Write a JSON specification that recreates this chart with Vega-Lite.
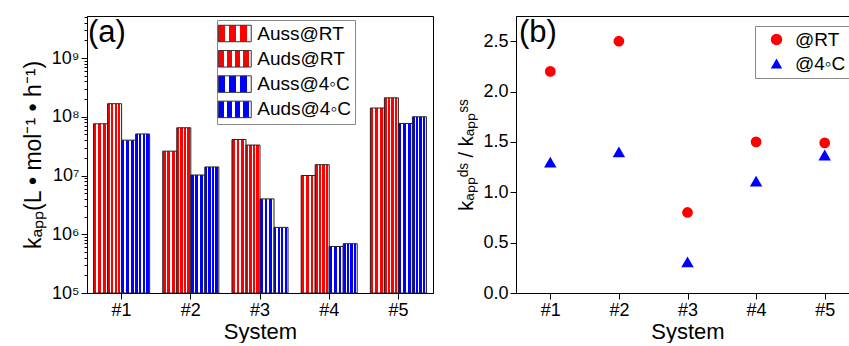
{
  "$schema": "https://vega.github.io/schema/vega-lite/v6.json",
  "padding": {"left": 21, "top": 15, "right": 0, "bottom": 0},
  "spacing": 22,
  "resolve": {
    "scale": {"fill": "independent", "color": "independent", "shape": "independent"},
    "legend": {"fill": "independent", "color": "independent", "shape": "independent"}
  },
  "datasets": {
    "bars": [
      {"system": "#1", "series": "Auss@RT", "k": 76000000},
      {"system": "#1", "series": "Auds@RT", "k": 167000000},
      {"system": "#1", "series": "Auss@4◦C", "k": 40000000},
      {"system": "#1", "series": "Auds@4◦C", "k": 51000000},
      {"system": "#2", "series": "Auss@RT", "k": 26000000},
      {"system": "#2", "series": "Auds@RT", "k": 65000000},
      {"system": "#2", "series": "Auss@4◦C", "k": 10200000},
      {"system": "#2", "series": "Auds@4◦C", "k": 14000000},
      {"system": "#3", "series": "Auss@RT", "k": 41000000},
      {"system": "#3", "series": "Auds@RT", "k": 33000000},
      {"system": "#3", "series": "Auss@4◦C", "k": 4000000},
      {"system": "#3", "series": "Auds@4◦C", "k": 1310000},
      {"system": "#4", "series": "Auss@RT", "k": 10000000},
      {"system": "#4", "series": "Auds@RT", "k": 15300000},
      {"system": "#4", "series": "Auss@4◦C", "k": 620000},
      {"system": "#4", "series": "Auds@4◦C", "k": 690000},
      {"system": "#5", "series": "Auss@RT", "k": 141000000},
      {"system": "#5", "series": "Auds@RT", "k": 210000000},
      {"system": "#5", "series": "Auss@4◦C", "k": 77000000},
      {"system": "#5", "series": "Auds@4◦C", "k": 100000000}
    ],
    "ratio": [
      {"system": "#1", "series": "@RT", "r": 2.2},
      {"system": "#2", "series": "@RT", "r": 2.5},
      {"system": "#3", "series": "@RT", "r": 0.8},
      {"system": "#4", "series": "@RT", "r": 1.5},
      {"system": "#5", "series": "@RT", "r": 1.49},
      {"system": "#1", "series": "@4◦C", "r": 1.3},
      {"system": "#2", "series": "@4◦C", "r": 1.4},
      {"system": "#3", "series": "@4◦C", "r": 0.31},
      {"system": "#4", "series": "@4◦C", "r": 1.11},
      {"system": "#5", "series": "@4◦C", "r": 1.37}
    ]
  },
  "hconcat": [
    {
      "width": 346,
      "height": 277,
      "title": {"text": "(a)", "anchor": "start", "frame": "group", "offset": -33, "dx": 1, "fontSize": 31, "fontWeight": "normal"},
      "data": {"name": "bars"},
      "mark": {"type": "bar", "stroke": "#222", "strokeWidth": 1},
      "encoding": {
        "x": {
          "field": "system", "type": "nominal",
          "scale": {"paddingInner": 0.19, "paddingOuter": 0.095},
          "axis": {"labelAngle": 0, "title": "System", "titleFontSize": 22, "tickSize": 6, "labelPadding": 2, "titlePadding": 2}
        },
        "xOffset": {"field": "series", "type": "nominal", "sort": ["Auss@RT", "Auds@RT", "Auss@4◦C", "Auds@4◦C"], "scale": {"paddingInner": 0, "paddingOuter": 0}},
        "y": {
          "field": "k", "type": "quantitative", "stack": null,
          "scale": {"type": "log", "domain": [100000, 5200000000], "nice": false},
          "axis": {
            "title": "kₐₚₚ(L • mol⁻¹ • h⁻¹)",
            "titleFontSize": 23,
            "values": [100000, 200000, 300000, 400000, 500000, 600000, 700000, 800000, 900000, 1000000, 2000000, 3000000, 4000000, 5000000, 6000000, 7000000, 8000000, 9000000, 10000000, 20000000, 30000000, 40000000, 50000000, 60000000, 70000000, 80000000, 90000000, 100000000, 200000000, 300000000, 400000000, 500000000, 600000000, 700000000, 800000000, 900000000, 1000000000, 2000000000, 3000000000, 4000000000, 5000000000],
            "labelExpr": "abs(log(datum.value)/LN10 - round(log(datum.value)/LN10)) < 0.01 ? '10' + ['⁰','¹','²','³','⁴','⁵','⁶','⁷','⁸','⁹'][round(log(datum.value)/LN10)] : ''",
            "tickSize": {"condition": {"test": "abs(log(datum.value)/LN10 - round(log(datum.value)/LN10)) < 0.01", "value": 6}, "value": 3},
            "labelPadding": 2,
            "titlePadding": 6
          }
        },
        "y2": {"datum": 100000},
        "fill": {
          "field": "series", "type": "nominal",
          "scale": {
            "domain": ["Auss@RT", "Auds@RT", "Auss@4◦C", "Auds@4◦C"],
            "range": [
              {"expr": "{gradient:'linear',x1:0,y1:0,x2:1,y2:0,stops:[{offset:0,color:'#ff0000'},{offset:0.2,color:'#ff0000'},{offset:0.2,color:'#ffffff'},{offset:0.333,color:'#ffffff'},{offset:0.333,color:'#ff0000'},{offset:0.533,color:'#ff0000'},{offset:0.533,color:'#ffffff'},{offset:0.667,color:'#ffffff'},{offset:0.667,color:'#ff0000'},{offset:0.867,color:'#ff0000'},{offset:0.867,color:'#ffffff'},{offset:1,color:'#ffffff'}]}"},
              {"expr": "{gradient:'linear',x1:0,y1:0,x2:1,y2:0,stops:[{offset:0,color:'#ff0000'},{offset:0.17,color:'#ff0000'},{offset:0.17,color:'#ffffff'},{offset:0.25,color:'#ffffff'},{offset:0.25,color:'#ff0000'},{offset:0.42,color:'#ff0000'},{offset:0.42,color:'#ffffff'},{offset:0.5,color:'#ffffff'},{offset:0.5,color:'#ff0000'},{offset:0.67,color:'#ff0000'},{offset:0.67,color:'#ffffff'},{offset:0.75,color:'#ffffff'},{offset:0.75,color:'#ff0000'},{offset:0.92,color:'#ff0000'},{offset:0.92,color:'#ffffff'},{offset:1,color:'#ffffff'}]}"},
              {"expr": "{gradient:'linear',x1:0,y1:0,x2:1,y2:0,stops:[{offset:0,color:'#0000ff'},{offset:0.2,color:'#0000ff'},{offset:0.2,color:'#ffffff'},{offset:0.333,color:'#ffffff'},{offset:0.333,color:'#0000ff'},{offset:0.533,color:'#0000ff'},{offset:0.533,color:'#ffffff'},{offset:0.667,color:'#ffffff'},{offset:0.667,color:'#0000ff'},{offset:0.867,color:'#0000ff'},{offset:0.867,color:'#ffffff'},{offset:1,color:'#ffffff'}]}"},
              {"expr": "{gradient:'linear',x1:0,y1:0,x2:1,y2:0,stops:[{offset:0,color:'#0000ff'},{offset:0.17,color:'#0000ff'},{offset:0.17,color:'#ffffff'},{offset:0.25,color:'#ffffff'},{offset:0.25,color:'#0000ff'},{offset:0.42,color:'#0000ff'},{offset:0.42,color:'#ffffff'},{offset:0.5,color:'#ffffff'},{offset:0.5,color:'#0000ff'},{offset:0.67,color:'#0000ff'},{offset:0.67,color:'#ffffff'},{offset:0.75,color:'#ffffff'},{offset:0.75,color:'#0000ff'},{offset:0.92,color:'#0000ff'},{offset:0.92,color:'#ffffff'},{offset:1,color:'#ffffff'}]}"}
            ]
          },
          "legend": {
            "title": null,
            "orient": "none",
            "legendX": 130,
            "legendY": 4,
            "symbolType": "M-2,-1H2V1H-2Z",
            "symbolSize": 272,
            "symbolOffset": 4.25,
            "symbolStrokeColor": "#333",
            "symbolStrokeWidth": 1,
            "labelFontSize": 19,
            "labelOffset": 13,
            "rowPadding": 4.3,
            "padding": 4,
            "strokeColor": "#888",
            "fillColor": "white"
          }
        }
      }
    },
    {
      "width": 343,
      "height": 277,
      "title": {"text": "(b)", "anchor": "start", "frame": "group", "offset": -33, "dx": 3, "fontSize": 31, "fontWeight": "normal"},
      "layer": [
        {
          "mark": {"type": "rule", "strokeDash": [4, 3], "color": "black", "strokeWidth": 1},
          "encoding": {"y": {"datum": 1, "type": "quantitative", "scale": {"domain": [0, 2.75], "nice": false}}}
        },
        {
          "data": {"name": "ratio"},
          "mark": {"type": "point", "filled": true, "opacity": 1},
          "encoding": {
            "x": {"field": "system", "type": "nominal", "scale": {"type": "point", "padding": 0.5}, "axis": {"labelAngle": 0, "title": "System", "titleFontSize": 22, "tickSize": 6, "labelPadding": 2, "titlePadding": 2}},
            "y": {
              "field": "r", "type": "quantitative",
              "scale": {"domain": [0, 2.75], "nice": false},
              "axis": {
                "title": "kₐₚₚᵈˢ / kₐₚₚˢˢ",
                "titleFontSize": 20,
                "values": [0, 0.25, 0.5, 0.75, 1, 1.25, 1.5, 1.75, 2, 2.25, 2.5],
                "labelExpr": "abs(datum.value*2 - round(datum.value*2)) < 0.01 ? format(datum.value, '.1f') : ''",
                "tickSize": {"condition": {"test": "abs(datum.value*2 - round(datum.value*2)) < 0.01", "value": 6}, "value": 3},
                "labelPadding": 2,
                "titlePadding": 6
              }
            },
            "size": {"condition": {"test": "datum.series == '@RT'", "value": 115}, "value": 155},
            "color": {"field": "series", "type": "nominal", "scale": {"domain": ["@RT", "@4◦C"], "range": ["#ff0000", "#0000ff"]},
              "legend": {"title": null, "orient": "none", "legendX": 239, "legendY": 10, "labelFontSize": 19, "symbolSize": 130, "symbolOffset": 8, "labelOffset": 9, "padding": 4, "rowPadding": 4, "strokeColor": "#888", "fillColor": "white"}},
            "shape": {"field": "series", "type": "nominal", "scale": {"domain": ["@RT", "@4◦C"], "range": ["circle", "triangle-up"]},
              "legend": {"title": null, "orient": "none", "legendX": 239, "legendY": 10, "labelFontSize": 19, "symbolSize": 130, "symbolOffset": 8, "labelOffset": 9, "padding": 4, "rowPadding": 4, "strokeColor": "#888", "fillColor": "white"}}
          }
        }
      ]
    }
  ],
  "config": {
    "font": "Liberation Sans",
    "view": {"stroke": "black", "strokeWidth": 1},
    "axis": {"domainColor": "black", "tickColor": "black", "labelColor": "black", "titleColor": "black", "labelFontSize": 18, "titleFontSize": 24, "titleFontWeight": "normal", "grid": false},
    "legend": {"labelColor": "black"},
    "title": {"color": "black"}
  }
}
